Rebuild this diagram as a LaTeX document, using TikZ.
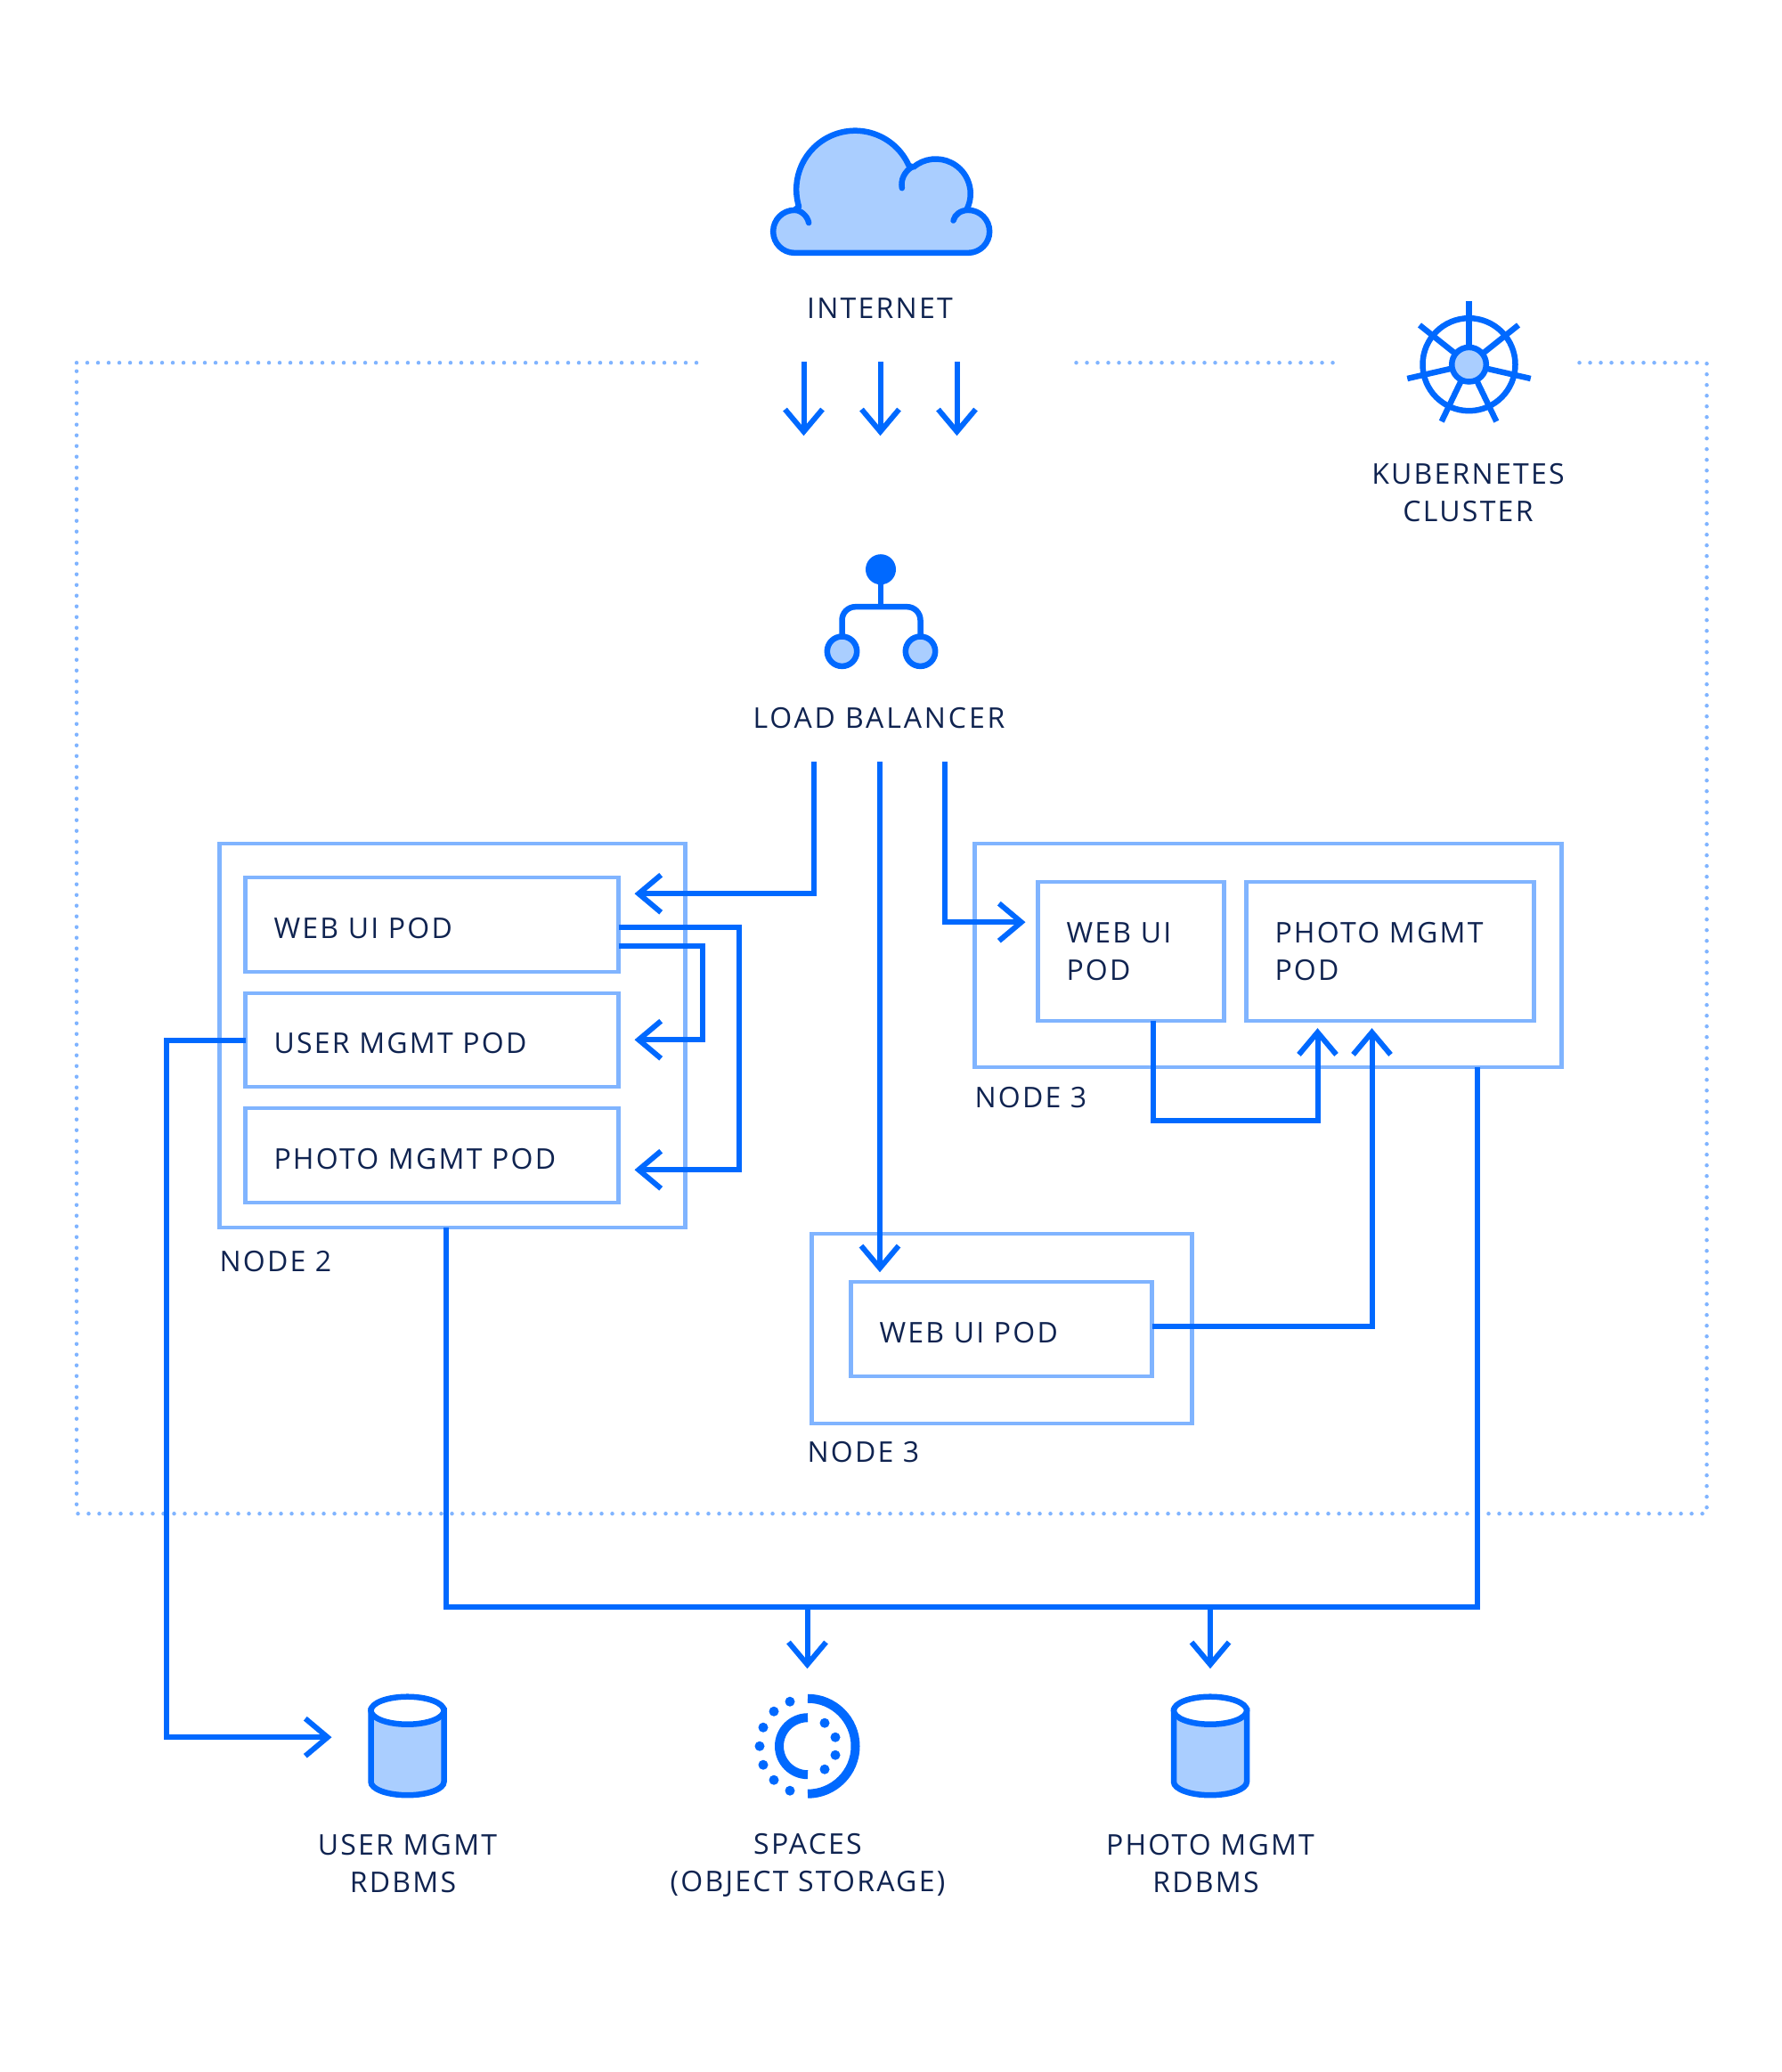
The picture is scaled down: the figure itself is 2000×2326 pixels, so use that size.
\documentclass[tikz,border=0pt]{standalone}
\usepackage{fontspec}
\setmainfont{Open Sans}[LetterSpace=7]
\usetikzlibrary{arrows.meta}
\definecolor{blueA}{HTML}{0069FF}
\definecolor{blueL}{HTML}{80B4FF}
\definecolor{blueF}{HTML}{AACEFF}
\definecolor{inkT}{HTML}{0F2350}
\tikzset{
  x=1pt,y=-1pt,
  every node/.style={text=inkT,font=\fontsize{32}{42}\selectfont,inner sep=0pt,outer sep=0pt},
  flow/.style={draw=blueA,line width=6pt,line join=miter,-{Straight Barb[length=25pt,width=42pt,line width=6pt]}},
  wire/.style={draw=blueA,line width=6pt,line join=miter},
  nodebox/.style={draw=blueL,line width=4.5pt,rectangle},
  podbox/.style={draw=blueL,line width=4.5pt,rectangle,align=left,inner xsep=32pt},
  oneline/.style={text height=30pt,text depth=0pt},
  dotline/.style={draw=blueL,line width=4.5pt,line cap=round,dash pattern=on 0pt off 12pt},
  icon/.style={draw=blueA,line width=6.5pt},
  lbl/.style={align=center}
}
\newcommand{\dbcyl}[1]{%
  \path[fill=blueF,draw=blueA,line width=6.5pt] (#1-41,1920) -- (#1-41,2000) arc[start angle=180,end angle=0,x radius=41,y radius=15] -- (#1+41,1920) -- cycle;
  \path[fill=white,draw=blueA,line width=6.5pt] (#1,1920) ellipse[x radius=41,y radius=15.5];
}
\begin{document}
\begin{tikzpicture}
\useasboundingbox[fill=white] (0,0) rectangle (2000,2326);
\begin{scope}[shift={(0.5,0.2)}]

% cluster outline
\draw[dotline] (1773,407) -- (1916,407) -- (1916,1699) -- (85.5,1699) -- (85.5,407);
\draw[dotline] (85.5,407) -- (782,407);
\draw[dotline] (1208,407) -- (1503,407);

% cloud
\begin{scope}[shift={(820,120)},scale=1/3]
\path[fill=blueF,draw=blueA,line width=6.5pt,line join=round]
  (215,491) -- (800,491) arc[start angle=90,end angle=-90,radius=72]
  -- (795,345) arc[start angle=27,end angle=-130,radius=117]
  -- (600,197) arc[start angle=-24,end angle=-197,radius=198]
  -- (215,347) arc[start angle=-90,end angle=-270,radius=72] -- cycle;
\draw[blueA,line width=6.5pt,line cap=round] (215,347) .. controls (235,347) and (258,365) .. (263,390);
\draw[blueA,line width=6.5pt,line cap=round] (800,347) .. controls (775,347) and (755,362) .. (750,382);
\draw[blueA,line width=6.5pt,line cap=round] (610,202) .. controls (585,218) and (572,245) .. (577,273);
\end{scope}
\node[lbl,anchor=base] (internet) at (987.5,357) {INTERNET};

% top arrows
\coordinate (inA) at (902,406); \coordinate (inAe) at (902,489);
\coordinate (inB) at (988,406); \coordinate (inBe) at (988,489);
\coordinate (inC) at (1074,406); \coordinate (inCe) at (1074,489);
\draw[flow] (inA) -- (inAe);
\draw[flow] (inB) -- (inBe);
\draw[flow] (inC) -- (inCe);

% kubernetes wheel
\draw[icon] (1649,409) circle (52);
\foreach \a in {-90,-38.57,12.86,64.29,115.71,167.14,218.57}
  \draw[icon] (1649,409) ++(\a:19) -- ++(\a:52);
\draw[icon,fill=blueF] (1649,409) circle (19.3);
\node[lbl] (k8s) at (1648,552.5) {KUBERNETES\\CLUSTER};

% load balancer
\draw[icon,rounded corners=15pt] (945,714) -- (945,681) -- (1033,681) -- (1033,714);
\draw[icon] (988.5,639) -- (988.5,681);
\fill[blueA] (988.5,639) circle (17);
\draw[icon,fill=blueF] (945,731) circle (16.7);
\draw[icon,fill=blueF] (1033,731) circle (16.7);
\node[lbl,anchor=base] (lb) at (986.5,817) {\addfontfeature{LetterSpace=9}LOAD BALANCER};

% node 2
\node[nodebox,minimum width=523pt,minimum height=431pt] (nodeB) at (507.5,1162.5) {};
\node[podbox,minimum width=419pt,minimum height=106pt,text width=355pt,oneline] (podWeb) at (484.5,1038) {WEB UI POD};
\node[podbox,minimum width=419pt,minimum height=105pt,text width=355pt,oneline] (podUser) at (484.5,1167.5) {USER MGMT POD};
\node[podbox,minimum width=419pt,minimum height=106pt,text width=355pt,oneline] (podPhoto) at (484.5,1297) {PHOTO MGMT POD};
\node[anchor=base west] (nodeBlbl) at (246,1427) {NODE 2};

% node 3 right
\node[nodebox,minimum width=659pt,minimum height=251pt] (nodeC) at (1423.5,1072.5) {};
\node[podbox,minimum width=209pt,minimum height=156pt,text width=145pt] (podWebC) at (1269.5,1068) {WEB UI\\POD};
\node[podbox,minimum width=323pt,minimum height=156pt,text width=259pt] (podPhotoC) at (1560.5,1068) {PHOTO MGMT\\POD};
\node[anchor=base west] (nodeClbl) at (1094,1243) {NODE 3};

% node 3 lower
\node[nodebox,minimum width=427pt,minimum height=213pt] (nodeD) at (1124.5,1491.5) {};
\node[podbox,minimum width=338pt,minimum height=106pt,text width=274pt,oneline] (podWebD) at (1124,1492) {WEB UI POD};
\node[anchor=base west] (nodeDlbl) at (906,1641) {NODE 3};

% connectors
\coordinate (lbL) at (913,855); \coordinate (lbM) at (987.5,855); \coordinate (lbR) at (1060,855);
\coordinate (tipWeb) at (712,1003);
\coordinate (tipUser) at (712,1167);
\coordinate (tipPhoto) at (712,1313);
\coordinate (tipWebC) at (1151,1035);
\coordinate (tipWebD) at (987.5,1428);
\coordinate (tipPhA) at (1479,1154);
\coordinate (tipPhB) at (1540,1154);
\coordinate (bendA) at (829,1100);
\coordinate (bendB) at (788,1100);
\coordinate (bendC) at (186,1500);
\coordinate (bendD) at (1479,1258);
\coordinate (bendE) at (1540,1489);
\coordinate (tipDbU) at (372,1950);
\coordinate (busR) at (1658,1804);
\coordinate (tapS) at (906,1804);
\coordinate (tapP) at (1358.5,1804);
\coordinate (tipS) at (906,1873);
\coordinate (tipP) at (1358.5,1873);

\draw[flow] (lbL) |- (tipWeb);
\draw[flow] (lbM) -- (tipWebD);
\draw[flow] (lbR) |- (tipWebC);
\draw[flow] ([yshift=-3pt]podWeb.east) -| (bendA) |- (tipPhoto);
\draw[flow] ([yshift=-24pt]podWeb.east) -| (bendB) |- (tipUser);
\draw[flow] (podUser.west) -| (bendC) |- (tipDbU);
\draw[flow] ([xshift=24.5pt]podWebC.south) |- (bendD) -- (tipPhA);
\draw[flow] ([yshift=3pt]podWebD.east) -- (bendE) -- (tipPhB);
\draw[wire] ([xshift=-7.5pt]nodeB.south) |- (busR) -- ([xshift=234.5pt]nodeC.south);
\draw[flow] (tapS) -- (tipS);
\draw[flow] (tapP) -- (tipP);

% databases
\dbcyl{457}
\dbcyl{1358.5}
\node[lbl] (dbU) at (457,2091.5) {USER MGMT\\RDBMS\hspace*{10pt}};
\node[lbl] (dbP) at (1358.5,2091.5) {PHOTO MGMT\\RDBMS\hspace*{10pt}};

% spaces
\draw[blueA,line width=10pt] (906.5,1906.5) arc[start angle=-90,end angle=90,radius=53.5];
\draw[blueA,line width=10pt] (906.5,1928) arc[start angle=-90,end angle=-270,radius=32];
\foreach \dx/\dy in {-20/-50,-38/-39,-50/-21,-54/0,-50/21,-38/38,-20/50,19/-26,31/-10,31/10,19/26}
  \fill[blueA] (906.5+\dx,1960+\dy) circle (5.5);
\node[lbl] (spc) at (906.5,2094) {SPACES\\(OBJECT STORAGE)};
\end{scope}
\end{tikzpicture}
\end{document}
